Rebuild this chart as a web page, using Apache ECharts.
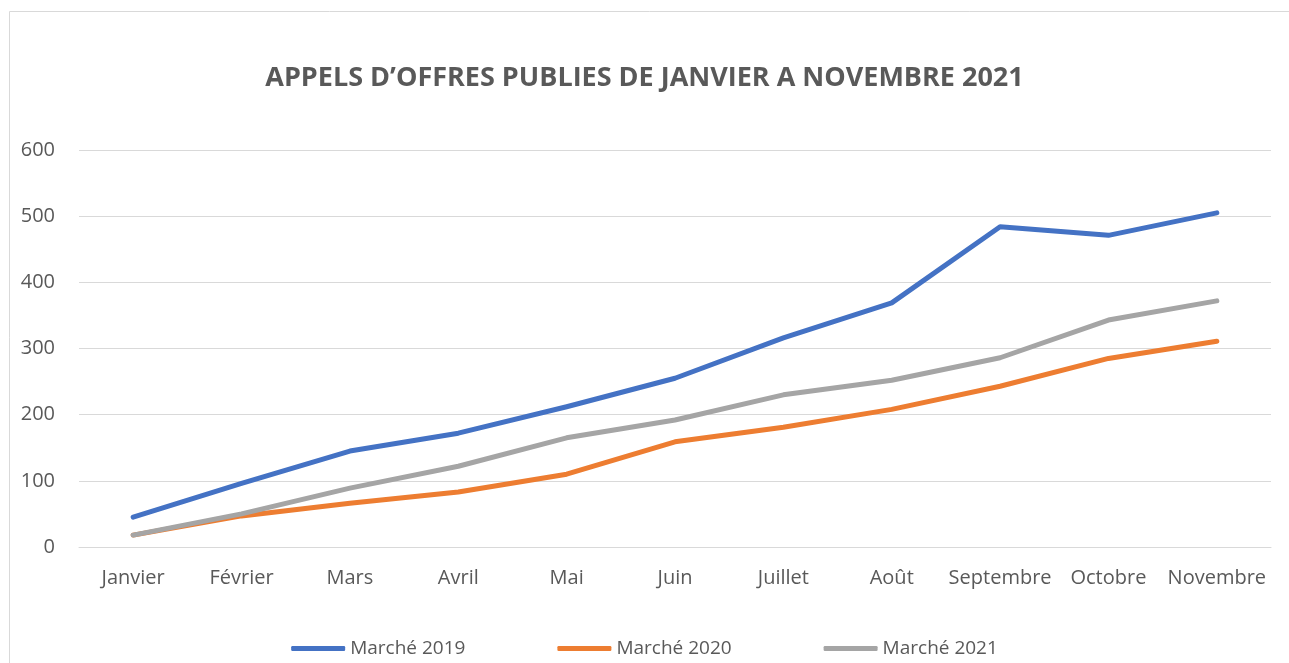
<!DOCTYPE html>
<html>
<head>
<meta charset="utf-8">
<script src="https://cdn.jsdelivr.net/npm/echarts@6/dist/echarts.min.js"></script>
<style>
  html, body { margin: 0; padding: 0; background: #fff; }
  #chart { width: 1289px; height: 663px; }
</style>
</head>
<body>
<div id="chart"></div>
<script>
const categories = ["Janvier", "Février", "Mars", "Avril", "Mai", "Juin", "Juillet", "Août", "Septembre", "Octobre", "Novembre"];
const marche2019 = [45, 96, 145, 172, 212, 255, 316, 369, 484, 471, 505];
const marche2020 = [18, 47, 66, 83, 110, 159, 181, 208, 243, 285, 311];
const marche2021 = [18, 50, 89, 122, 165, 192, 230, 252, 286, 343, 372];

const chart = echarts.init(document.getElementById("chart"));
const textColor = "#595959";
const font = "'Open Sans', 'Liberation Sans', sans-serif";

function line(name, data, color) {
  return {
    name: name,
    type: "line",
    data: data,
    symbol: "none",
    lineStyle: { width: 5, color: color, cap: "round", join: "round" },
    itemStyle: { color: color },
  };
}

chart.setOption({
  animation: false,
  graphic: [
    {
      type: "rect",
      shape: { x: 9.5, y: 11.5, width: 1300, height: 700 },
      style: { fill: "none", stroke: "#d9d9d9", lineWidth: 1 },
    },
  ],
  title: {
    text: "APPELS D’OFFRES PUBLIES DE JANVIER A NOVEMBRE 2021",
    left: "center",
    top: 60,
    textStyle: { color: textColor, fontSize: 27, fontWeight: "bold", fontFamily: font },
  },
  legend: {
    bottom: 0,
    left: "center",
    itemWidth: 54,
    itemHeight: 5,
    itemGap: 92,
    icon: "roundRect",
    textStyle: { color: textColor, fontSize: 19, fontFamily: font },
    data: ["Marché 2019", "Marché 2020", "Marché 2021"],
  },
  grid: { left: 79, right: 18, top: 150, bottom: 116 },
  xAxis: {
    type: "category",
    data: categories,
    boundaryGap: true,
    axisLine: { lineStyle: { color: "#d9d9d9", width: 1 } },
    axisTick: { show: false },
    axisLabel: { color: textColor, fontSize: 20, fontFamily: font, margin: 21, interval: 0 },
  },
  yAxis: {
    type: "value",
    min: 0,
    max: 600,
    interval: 100,
    axisLine: { show: false },
    axisTick: { show: false },
    splitLine: { lineStyle: { color: "#d9d9d9", width: 1 } },
    axisLabel: { color: textColor, fontSize: 20, fontFamily: font, margin: 24 },
  },
  series: [
    line("Marché 2019", marche2019, "#4472C4"),
    line("Marché 2020", marche2020, "#ED7D31"),
    line("Marché 2021", marche2021, "#A5A5A5"),
  ],
});
</script>
</body>
</html>
